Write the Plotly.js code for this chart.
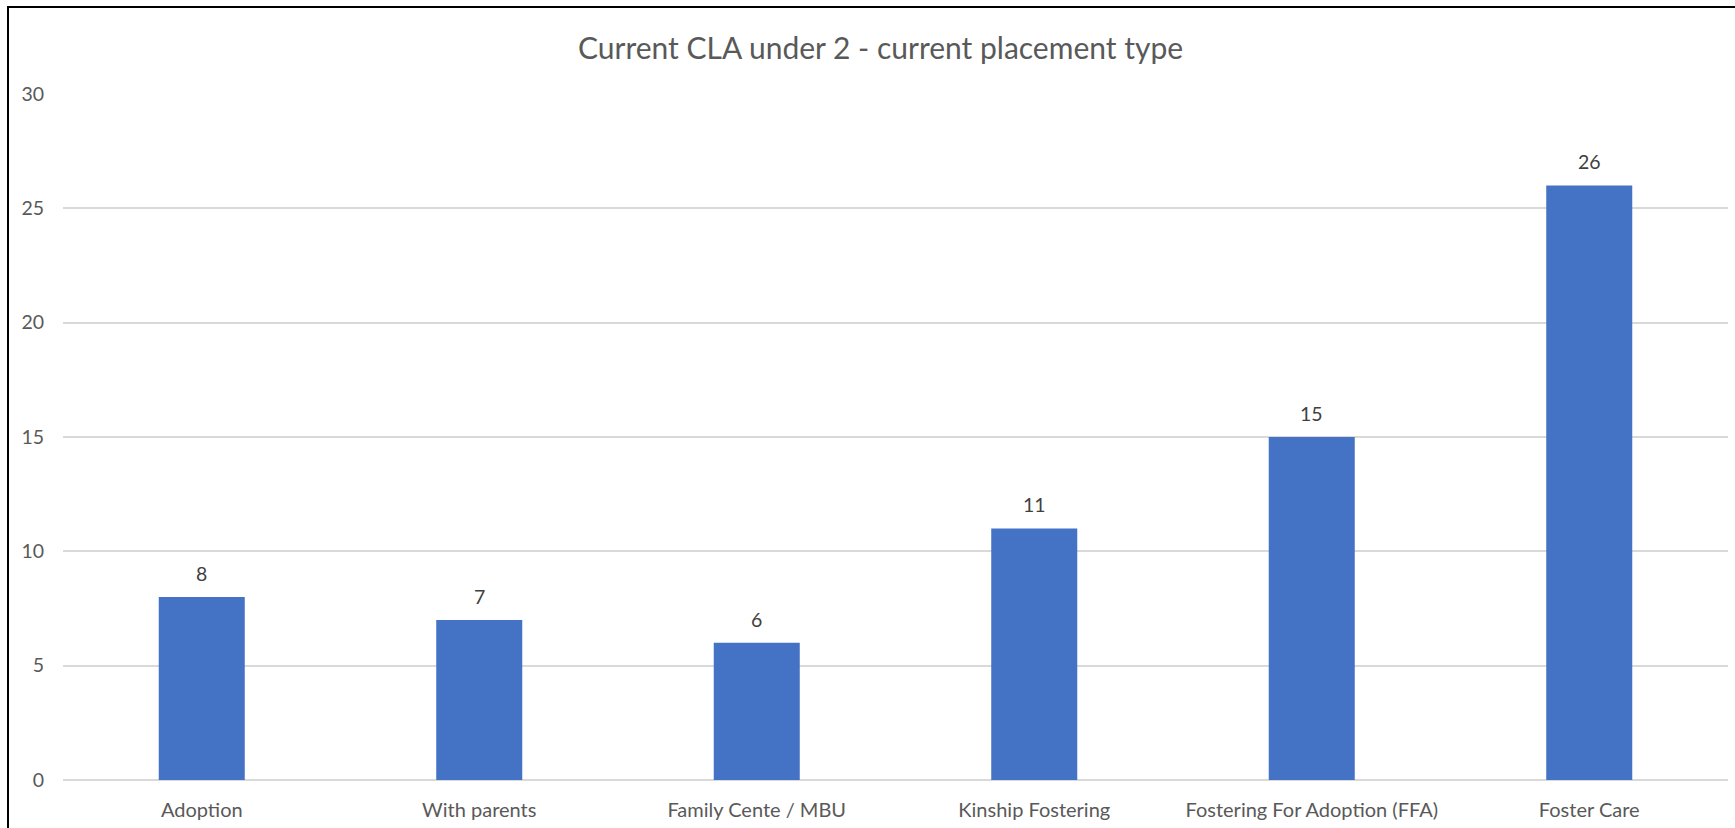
<!DOCTYPE html>
<html>
<head>
<meta charset="utf-8">
<script src="https://cdn.plot.ly/plotly-3.0.1.min.js"></script>
<style>
  html, body { margin: 0; padding: 0; background: #fff; }
  #wrap { position: relative; width: 1735px; height: 828px; overflow: hidden; }
  #chart { position: absolute; left: 0; top: 0; width: 1735px; height: 828px; }
  #frame { position: absolute; left: 7px; top: 6px; width: 1800px; height: 900px;
           border-left: 2px solid #000; border-top: 2px solid #000; pointer-events: none; }
</style>
</head>
<body>
<div id="wrap">
  <div id="chart"></div>
  <div id="frame"></div>
</div>
<script>
const categories = ["Adoption", "With parents", "Family Cente / MBU", "Kinship Fostering", "Fostering For Adoption (FFA)", "Foster Care"];
const values = [8, 7, 6, 11, 15, 26];
const yTicks = [0, 5, 10, 15, 20, 25, 30];
const chartTitle = "Current CLA under 2 - current placement type";

const FONT = "Lato, 'Open Sans', sans-serif";

const trace = {
  type: "bar",
  x: categories,
  y: values,
  marker: { color: "#4472C4" },
  hoverinfo: "x+y"
};

const annotations = categories.map((c, i) => ({
  x: c, y: values[i], xref: "x", yref: "y",
  text: String(values[i]),
  showarrow: false,
  yanchor: "bottom",
  yshift: 10,
  font: { family: FONT, size: 19.5, color: "#404040" }
}));

const layout = {
  width: 1735, height: 828,
  margin: { l: 63, r: 7, t: 94, b: 48, pad: 0 },
  paper_bgcolor: "#ffffff",
  plot_bgcolor: "#ffffff",
  bargap: 0.69,
  showlegend: false,
  title: {
    text: chartTitle,
    x: 0.491, xref: "paper", xanchor: "center",
    y: 1 - 48 / 828, yref: "container", yanchor: "middle",
    font: { family: FONT, size: 30, color: "#595959" }
  },
  xaxis: {
    type: "category",
    showgrid: false, showline: false, zeroline: false,
    ticks: "", ticklabelstandoff: 16,
    tickfont: { family: FONT, size: 20, color: "#595959" }
  },
  yaxis: {
    range: [0, 30],
    tickvals: yTicks,
    showgrid: true, gridcolor: "#d9d9d9", gridwidth: 1.5,
    zeroline: true, zerolinecolor: "#d9d9d9", zerolinewidth: 1.5,
    showline: false, ticks: "", ticklabelstandoff: 18,
    tickfont: { family: FONT, size: 19.5, color: "#595959" }
  },
  annotations: annotations
};

Plotly.newPlot("chart", [trace], layout, { displayModeBar: false, staticPlot: false });
</script>
</body>
</html>
